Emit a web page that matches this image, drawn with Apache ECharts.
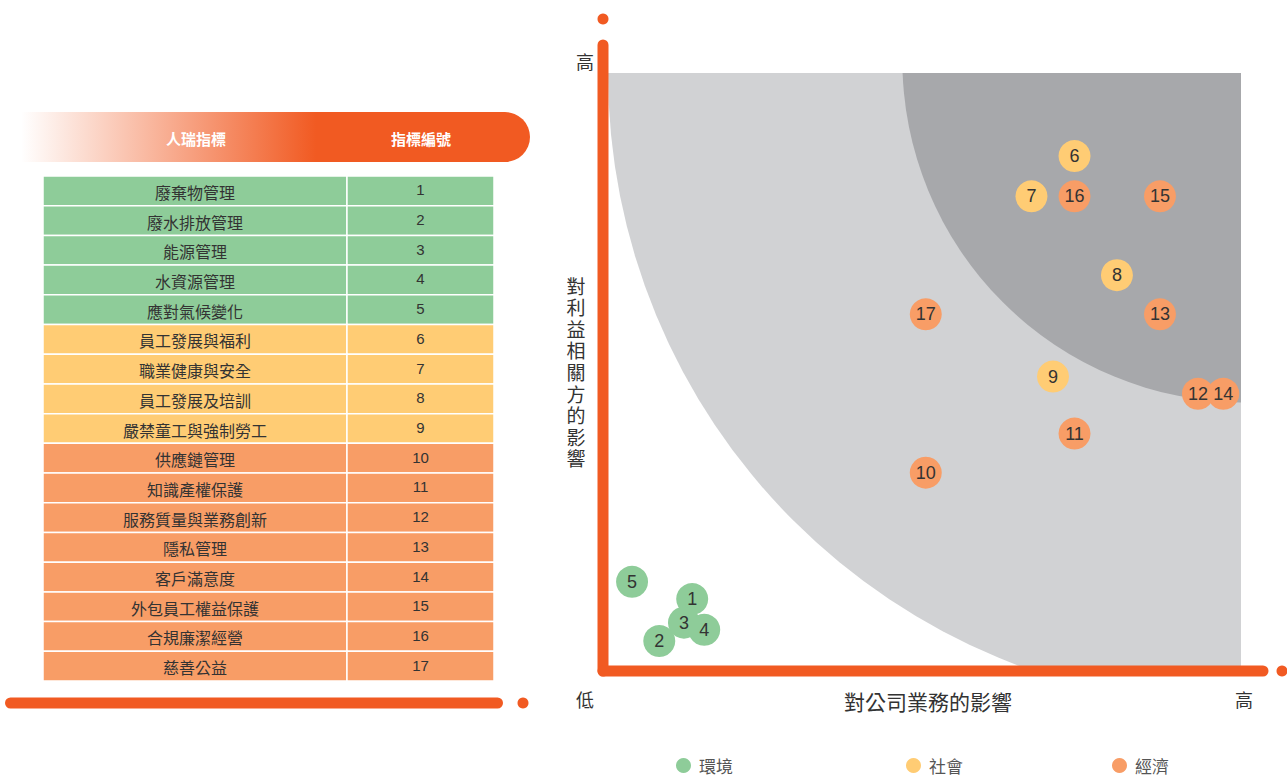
<!DOCTYPE html>
<html>
<head>
<meta charset="utf-8">
<script src="https://cdn.jsdelivr.net/npm/echarts@6/dist/echarts.min.js"></script>
<style>
html,body{margin:0;padding:0;background:#fff;}
#chart{width:1287px;height:777px;}
</style>
</head>
<body>
<div id="chart"></div>
<script>
// ---------- data ----------
const categories = ['環境', '社會', '經濟'];
const categoryColors = ['#8ECC99', '#FFCC74', '#F89D66'];
const indicatorIds = ['1','2','3','4','5','6','7','8','9','10','11','12','13','14','15','16','17'];
const indicatorNames = ['廢棄物管理','廢水排放管理','能源管理','水資源管理','應對氣候變化','員工發展與福利','職業健康與安全','員工發展及培訓','嚴禁童工與強制勞工','供應鏈管理','知識產權保護','服務質量與業務創新','隱私管理','客戶滿意度','外包員工權益保護','合規廉潔經營','慈善公益'];
const indicatorCategory = [0,0,0,0,0,1,1,1,1,2,2,2,2,2,2,2,2];
// impact on business (x) and impact on stakeholders (y), 0..100
const businessImpact =    [13.3, 8.1, 12.0, 15.2, 3.8, 73.7, 66.9, 80.4, 70.3, 50.2, 73.7, 93.2, 87.2, 97.2, 87.2, 73.7, 50.2];
const stakeholderImpact = [11.3, 4.2,  7.3,  6.1, 14.2, 86.0, 79.2, 65.9, 48.8, 32.6, 39.2, 45.9, 59.3, 45.9, 79.2, 79.2, 59.3];
// zones: quarter circles near the high/high corner [centre x, centre y, radius in x-units]
const zoneCenterX = [100, 100.6];
const zoneCenterY = [100, 102.2];
const zoneRadius = [100, 54.1];
const zoneColors = ['#D1D2D4', '#A7A8AB'];
const tableHeader = ['人瑞指標', '指標編號'];
const axisEndLabels = ['低', '高'];
const xAxisTitle = '對公司業務的影響';
const yAxisTitle = '對利益相關方的影響';

// ---------- chart ----------
const ORANGE = '#F15A22';
const CJK = '"Noto Sans CJK TC", "Noto Sans CJK SC", sans-serif';
const colSplit = 0.674;

const chart = echarts.init(document.getElementById('chart'), null, {renderer: 'svg'});

const scatterSeries = categories.map((cat, ci) => ({
  name: cat,
  type: 'scatter',
  xAxisIndex: 0, yAxisIndex: 0,
  symbol: 'circle',
  symbolSize: 32,
  itemStyle: {color: categoryColors[ci], opacity: 1},
  label: {
    show: true, position: 'inside',
    formatter: p => p.value[2],
    color: '#333', fontSize: 18, fontFamily: '"Liberation Sans", Arial, sans-serif'
  },
  emphasis: {disabled: true},
  z: 5,
  data: indicatorIds.map((id, i) => indicatorCategory[i] === ci ? [businessImpact[i], stakeholderImpact[i], id] : null).filter(d => d)
}));

const legends = categories.map((cat, ci) => ({
  data: [{name: cat, icon: 'circle'}],
  left: [671, 901, 1107][ci],
  top: 752,
  itemWidth: 15, itemHeight: 15,
  selectedMode: false,
  textStyle: {fontSize: 17, color: '#555', fontFamily: CJK, padding: [0, 0, 0, 3]}
}));

const centred = {textAlign: 'center', textVerticalAlign: 'middle', align: 'center', verticalAlign: 'middle'};

const yTitleChars = yAxisTitle.split('').map((ch, k) => ({
  type: 'text', z: 11, x: 576, y: 287 + k * 21.6,
  style: Object.assign({text: ch, fill: '#333', font: '19px "Liberation Sans", ' + CJK, lineHeight: 20}, centred)
}));

const option = {
  animation: false,
  backgroundColor: '#fff',
  legend: legends,
  grid: [
    {left: 608, top: 73, width: 633, height: 593},
    {left: 43, top: 176, width: 451, height: 505}
  ],
  xAxis: [
    {type: 'value', gridIndex: 0, min: 0, max: 100, show: false},
    {type: 'value', gridIndex: 1, min: 0, max: 1, show: false}
  ],
  yAxis: [
    {type: 'value', gridIndex: 0, min: 0, max: 100, show: false},
    {type: 'category', gridIndex: 1, data: indicatorIds, inverse: true, show: false}
  ],
  series: [
    {
      type: 'custom', xAxisIndex: 0, yAxisIndex: 0, clip: true, silent: true, z: 1,
      data: zoneRadius.map((r, k) => [zoneCenterX[k], zoneCenterY[k], r]),
      renderItem: (params, api) => {
        const c = api.coord([api.value(0), api.value(1)]);
        const e = api.coord([api.value(0) - api.value(2), api.value(1)]);
        const r = c[0] - e[0];
        return {
          type: 'sector',
          shape: {cx: c[0], cy: c[1], r: r, r0: 0, startAngle: Math.PI / 2, endAngle: Math.PI, clockwise: true},
          style: {fill: zoneColors[params.dataIndex]}
        };
      }
    },
    {
      type: 'custom', xAxisIndex: 1, yAxisIndex: 1, silent: true, z: 2,
      encode: {x: 0, y: 1},
      data: indicatorIds.map((id, i) => [0, i]),
      renderItem: (params, api) => {
        const i = params.dataIndex;
        const yc = api.coord([0, i])[1];
        const h = api.size([0, 1])[1];
        const xL = api.coord([0, i])[0];
        const xM = api.coord([colSplit, i])[0];
        const xR = api.coord([1, i])[0];
        const fill = categoryColors[indicatorCategory[i]];
        return {
          type: 'group',
          children: [
            {type: 'rect', shape: {x: xL, y: yc - h / 2, width: xM - xL, height: h}, style: {fill: fill, stroke: '#fff', lineWidth: 1.5}},
            {type: 'rect', shape: {x: xM, y: yc - h / 2, width: xR - xM, height: h}, style: {fill: fill, stroke: '#fff', lineWidth: 1.5}},
            {type: 'text', x: (xL + xM) / 2, y: yc + 1, style: Object.assign({text: indicatorNames[i], fill: '#333', font: '16px ' + CJK}, centred)},
            {type: 'text', x: (xM + xR) / 2, y: yc - 1, style: Object.assign({text: indicatorIds[i], fill: '#333', font: '15px "Liberation Sans", Arial, sans-serif'}, centred)}
          ]
        };
      }
    }
  ].concat(scatterSeries),
  graphic: [
    // table header banner
    {type: 'rect', z: 10, shape: {x: 21, y: 112, width: 509, height: 50, r: [0, 25, 25, 0]},
      style: {fill: {type: 'linear', x: 0, y: 0, x2: 1, y2: 0, colorStops: [
        {offset: 0, color: 'rgba(241,90,34,0)'}, {offset: 0.58, color: ORANGE}, {offset: 1, color: ORANGE}]}}},
    {type: 'text', z: 11, x: 196, y: 138, style: Object.assign({text: tableHeader[0], fill: '#fff', font: 'bold 15px ' + CJK}, centred)},
    {type: 'text', z: 11, x: 421, y: 138, style: Object.assign({text: tableHeader[1], fill: '#fff', font: 'bold 15px ' + CJK}, centred)},
    // table bottom bar
    {type: 'line', z: 10, shape: {x1: 10.5, y1: 703, x2: 497.5, y2: 703}, style: {stroke: ORANGE, lineWidth: 11, lineCap: 'round'}},
    {type: 'circle', z: 10, shape: {cx: 523, cy: 703, r: 5.5}, style: {fill: ORANGE}},
    // matrix axes
    {type: 'line', z: 10, shape: {x1: 603, y1: 45, x2: 603, y2: 671}, style: {stroke: ORANGE, lineWidth: 11, lineCap: 'round'}},
    {type: 'line', z: 10, shape: {x1: 603, y1: 671, x2: 1263, y2: 671}, style: {stroke: ORANGE, lineWidth: 11, lineCap: 'round'}},
    {type: 'circle', z: 10, shape: {cx: 603, cy: 19, r: 5.5}, style: {fill: ORANGE}},
    {type: 'circle', z: 10, shape: {cx: 1282, cy: 671, r: 5.5}, style: {fill: ORANGE}},
    // axis end labels
    {type: 'text', z: 11, x: 585, y: 61, style: Object.assign({text: axisEndLabels[1], fill: '#333', font: '18px ' + CJK}, centred)},
    {type: 'text', z: 11, x: 585, y: 699, style: Object.assign({text: axisEndLabels[0], fill: '#333', font: '18px ' + CJK}, centred)},
    {type: 'text', z: 11, x: 1244, y: 699, style: Object.assign({text: axisEndLabels[1], fill: '#333', font: '18px ' + CJK}, centred)},
    // axis titles
    {type: 'text', z: 11, x: 928, y: 701, style: Object.assign({text: xAxisTitle, fill: '#333', font: '21px ' + CJK}, centred)}
  ].concat(yTitleChars)
};

chart.setOption(option);
</script>
</body>
</html>
